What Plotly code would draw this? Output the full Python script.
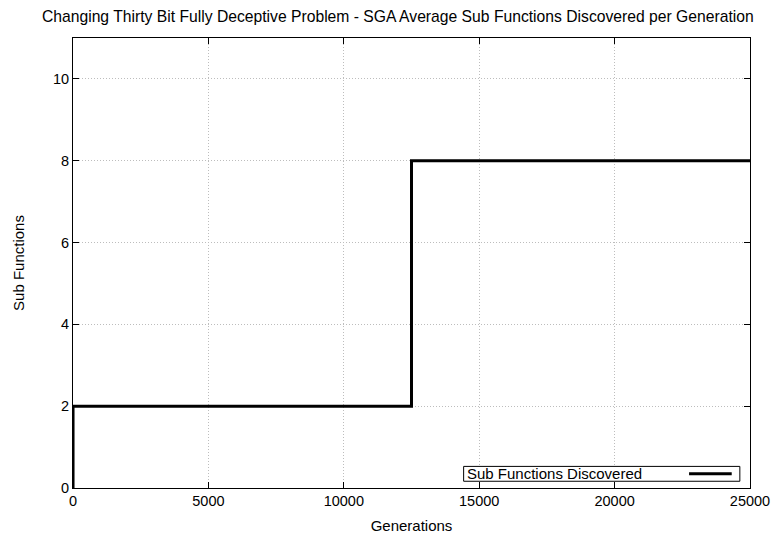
import plotly.graph_objects as go

generations = [0, 1, 12500, 25000]
sub_functions = [0, 2, 8, 8]
x_ticks = [0, 5000, 10000, 15000, 20000, 25000]
x_tick_labels = ["0", "5000", "10000", "15000", "20000", "25000"]
y_ticks = [0, 2, 4, 6, 8, 10]
series_name = "Sub Functions Discovered"
title = "Changing Thirty Bit Fully Deceptive Problem - SGA Average Sub Functions Discovered per Generation"

fig = go.Figure()
fig.add_trace(go.Scatter(x=generations, y=sub_functions, mode="lines", line_shape="hv",
                         line=dict(color="black", width=3), name=series_name, showlegend=False))

axis_common = dict(showline=True, linecolor="black", linewidth=1, mirror="ticks",
                   ticks="inside", ticklen=6, tickcolor="black", tickwidth=1,
                   showgrid=True, gridcolor="#bdbdbd", griddash="1px,2px", gridwidth=1,
                   zeroline=False, automargin=False, tickfont=dict(size=14.5, color="black"))

fig.update_xaxes(range=[0, 25000], tickvals=x_ticks, ticktext=x_tick_labels,
                 title=dict(text="Generations", standoff=12, font=dict(size=15)), **axis_common)
fig.update_yaxes(range=[0, 11], tickvals=y_ticks,
                 title=dict(text="Sub Functions", standoff=24, font=dict(size=15)), **axis_common)

# legend box (gnuplot style: text left, sample right)
fig.add_shape(type="rect", xref="paper", yref="paper", x0=0.577, x1=0.985, y0=0.015, y1=0.048,
              line=dict(color="black", width=1), fillcolor="white", layer="above")
fig.add_shape(type="line", xref="paper", yref="paper", x0=0.91, x1=0.973, y0=0.0315, y1=0.0315,
              line=dict(color="black", width=3), layer="above")
fig.add_annotation(xref="paper", yref="paper", x=0.579, y=0.0315, xanchor="left", yanchor="middle",
                   text=series_name, showarrow=False, font=dict(size=15, color="black"))

fig.update_layout(width=774, height=536, margin=dict(l=73, r=24, t=38, b=48),
                  paper_bgcolor="white", plot_bgcolor="white",
                  font=dict(family="Liberation Sans, Arial, sans-serif", color="black"),
                  title=dict(text=title, x=0.514, xanchor="center", y=0.97, yanchor="middle",
                             font=dict(size=15.7, color="black")))

fig.write_html("out.html")
